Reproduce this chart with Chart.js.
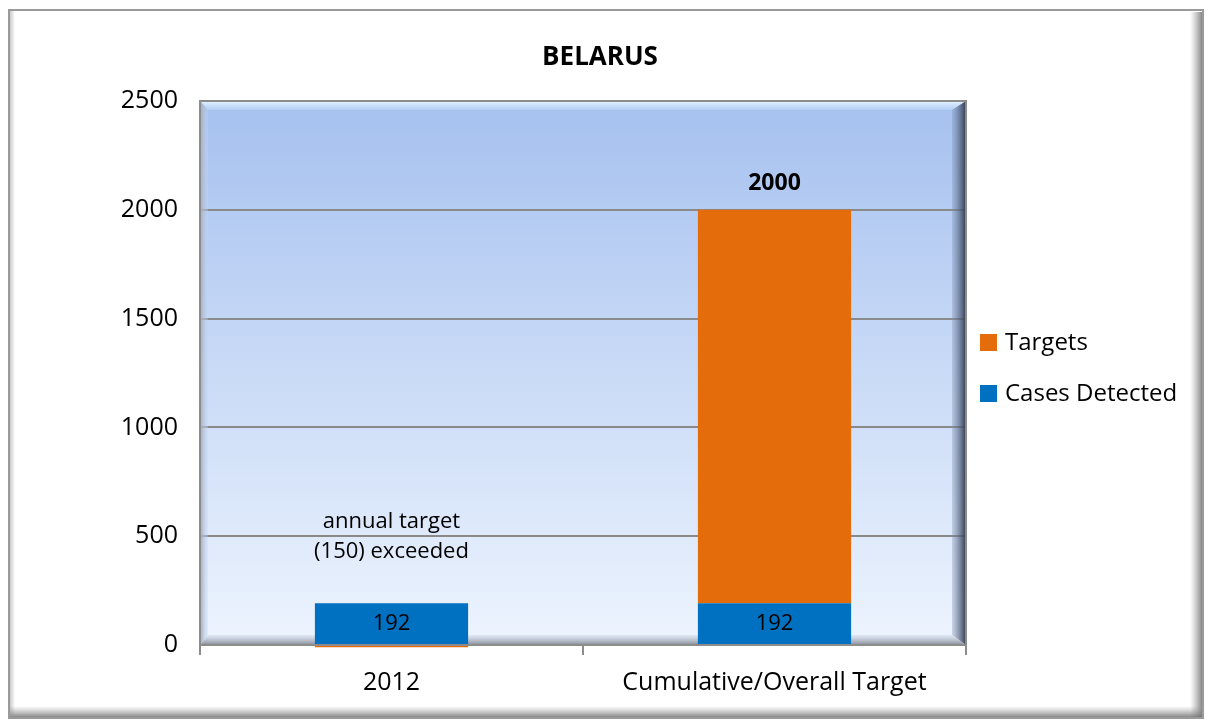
<!DOCTYPE html>
<html>
<head>
<meta charset="utf-8">
<script src="https://cdn.jsdelivr.net/npm/chart.js@4"></script>
<style>
  html, body { margin: 0; padding: 0; background: #fff; }
  #wrap { width: 1205px; height: 720px; }
</style>
</head>
<body>
<div id="wrap"><canvas id="chart" width="1205" height="720"></canvas></div>
<script>
  // dane
  const CATEGORIES = ["2012", "Cumulative/Overall Target"];
  const CASES_DETECTED = [192, 192];
  const TARGETS = [-10, 1808];
  const TARGET_TOTAL_LABEL = ["", "2000"];
  const NOTE_2012 = ["annual target", "(150) exceeded"];
  const TITLE = "BELARUS";

  const ORANGE = "#e46c0a";
  const BLUE = "#0070c0";
  const FONT = "'Open Sans', Lato, sans-serif";

  // tło, ramka i "fazowanie" obszaru wykresu
  const decorPlugin = {
    id: "decor",
    beforeDraw(chart) {
      const ctx = chart.ctx;
      const a = chart.chartArea;
      ctx.save();
      ctx.fillStyle = "#ffffff";
      ctx.fillRect(0, 0, chart.width, chart.height);

      // cien zewnetrznej ramki
      let g = ctx.createLinearGradient(1190, 0, 1203, 0);
      g.addColorStop(0, "rgba(150,150,150,0)");
      g.addColorStop(1, "rgba(110,110,110,0.9)");
      ctx.fillStyle = g;
      ctx.fillRect(1190, 12, 13, 706);
      g = ctx.createLinearGradient(0, 706, 0, 718);
      g.addColorStop(0, "rgba(150,150,150,0)");
      g.addColorStop(1, "rgba(110,110,110,0.9)");
      ctx.fillStyle = g;
      ctx.fillRect(10, 706, 1193, 12);
      g = ctx.createLinearGradient(9, 0, 15, 0);
      g.addColorStop(0, "rgba(150,150,150,0.6)");
      g.addColorStop(1, "rgba(150,150,150,0)");
      ctx.fillStyle = g;
      ctx.fillRect(9, 10, 6, 708);
      ctx.strokeStyle = "#9a9a9a";
      ctx.lineWidth = 2;
      ctx.strokeRect(9, 10, 1194, 708);

      // gradient obszaru wykresu
      g = ctx.createLinearGradient(0, a.top, 0, a.bottom);
      g.addColorStop(0, "#a6c1ef");
      g.addColorStop(1, "#edf4fe");
      ctx.fillStyle = g;
      ctx.fillRect(a.left, a.top, a.right - a.left, a.bottom - a.top);
      ctx.restore();
    },
    beforeDatasetsDraw(chart) {
      const ctx = chart.ctx;
      const { left: L, right: R, top: T, bottom: B } = chart.chartArea;
      const bt = 9, br = 14, bb = 10, bl = 8;
      ctx.save();
      // gora
      let g = ctx.createLinearGradient(0, T, 0, T + bt);
      g.addColorStop(0, "rgba(230,245,255,1)");
      g.addColorStop(1, "rgba(195,220,252,0.5)");
      ctx.fillStyle = g;
      ctx.beginPath();
      ctx.moveTo(L, T); ctx.lineTo(R, T); ctx.lineTo(R - br, T + bt); ctx.lineTo(L + bl, T + bt);
      ctx.closePath(); ctx.fill();
      // prawo
      g = ctx.createLinearGradient(R - br, 0, R, 0);
      g.addColorStop(0, "rgba(120,140,175,0.3)");
      g.addColorStop(1, "rgba(50,58,78,1)");
      ctx.fillStyle = g;
      ctx.beginPath();
      ctx.moveTo(R, T); ctx.lineTo(R, B); ctx.lineTo(R - br, B - bb); ctx.lineTo(R - br, T + bt);
      ctx.closePath(); ctx.fill();
      // dol
      g = ctx.createLinearGradient(0, B - bb, 0, B);
      g.addColorStop(0, "rgba(215,225,240,0.6)");
      g.addColorStop(1, "rgba(135,140,150,1)");
      ctx.fillStyle = g;
      ctx.beginPath();
      ctx.moveTo(L, B); ctx.lineTo(R, B); ctx.lineTo(R - br, B - bb); ctx.lineTo(L + bl, B - bb);
      ctx.closePath(); ctx.fill();
      // lewo
      g = ctx.createLinearGradient(L, 0, L + bl, 0);
      g.addColorStop(0, "rgba(160,170,190,1)");
      g.addColorStop(1, "rgba(200,215,240,0.3)");
      ctx.fillStyle = g;
      ctx.beginPath();
      ctx.moveTo(L, T); ctx.lineTo(L, B); ctx.lineTo(L + bl, B - bb); ctx.lineTo(L + bl, T + bt);
      ctx.closePath(); ctx.fill();
      ctx.strokeStyle = "#8c8c8c";
      ctx.lineWidth = 2;
      ctx.strokeRect(L, T, R - L, B - T);
      ctx.restore();
    },
    afterDatasetsDraw(chart) {
      const ctx = chart.ctx;
      const y = chart.scales.y;
      const casesMeta = chart.getDatasetMeta(0);
      const targetMeta = chart.getDatasetMeta(1);
      ctx.save();
      ctx.textAlign = "center";
      ctx.textBaseline = "middle";
      ctx.fillStyle = "#000";

      // etykiety 192 w niebieskich słupkach
      ctx.font = "22px " + FONT;
      casesMeta.data.forEach((bar, i) => {
        ctx.fillText(String(CASES_DETECTED[i]), bar.x, (bar.y + bar.base) / 2);
      });

      // suma celu nad słupkiem
      ctx.font = "bold 23px " + FONT;
      targetMeta.data.forEach((bar, i) => {
        if (TARGET_TOTAL_LABEL[i]) ctx.fillText(TARGET_TOTAL_LABEL[i], bar.x, bar.y - 26);
      });

      // notka dla 2012
      ctx.font = "22px " + FONT;
      const x0 = casesMeta.data[0].x;
      const yMid = y.getPixelForValue(500);
      ctx.fillText(NOTE_2012[0], x0, yMid - 14);
      ctx.fillText(NOTE_2012[1], x0, yMid + 16);

      // tytuł
      ctx.font = "bold 26px " + FONT;
      ctx.fillText(TITLE, 600, 58);

      // legenda
      const items = [
        { text: chart.data.datasets[1].label, color: ORANGE, y: 343 },
        { text: chart.data.datasets[0].label, color: BLUE, y: 394 },
      ];
      ctx.textAlign = "left";
      ctx.font = "24px " + FONT;
      items.forEach((it) => {
        ctx.fillStyle = it.color;
        ctx.fillRect(980, it.y - 9, 17, 17);
        ctx.fillStyle = "#000";
        ctx.fillText(it.text, 1005, it.y);
      });
      ctx.restore();
    },
  };

  new Chart(document.getElementById("chart"), {
    type: "bar",
    data: {
      labels: CATEGORIES,
      datasets: [
        {
          label: "Cases Detected",
          data: CASES_DETECTED,
          backgroundColor: BLUE,
          barPercentage: 0.4,
          categoryPercentage: 1,
          clip: false,
        },
        {
          label: "Targets",
          data: TARGETS,
          backgroundColor: ORANGE,
          barPercentage: 0.4,
          categoryPercentage: 1,
          clip: false,
        },
      ],
    },
    options: {
      responsive: false,
      animation: false,
      layout: { padding: { left: 0, top: 101, right: 239, bottom: 0 } },
      plugins: {
        legend: { display: false },
        title: { display: false },
        tooltip: { enabled: false },
      },
      scales: {
        x: {
          stacked: true,
          grid: {
            offset: true,
            drawOnChartArea: false,
            drawTicks: true,
            tickLength: 10,
            color: "#8c8c8c",
            lineWidth: 2,
          },
          border: { display: true, color: "#8c8c8c", width: 2 },
          ticks: {
            color: "#000",
            padding: 13,
            font: { family: FONT, size: 25 },
            maxRotation: 0,
          },
          afterFit: (s) => { s.height = 75; },
        },
        y: {
          stacked: true,
          min: 0,
          max: 2500,
          ticks: {
            stepSize: 500,
            color: "#000",
            padding: 22,
            font: { family: FONT, size: 25 },
            callback: (v) => String(v),
          },
          grid: {
            drawTicks: false,
            color: (c) => (c.tick.value === 0 || c.tick.value === 2500 ? "rgba(0,0,0,0)" : "#8a8a8a"),
            lineWidth: 2,
          },
          border: { display: false },
          afterFit: (s) => { s.width = 200; },
        },
      },
    },
    plugins: [decorPlugin],
  });
</script>
</body>
</html>
